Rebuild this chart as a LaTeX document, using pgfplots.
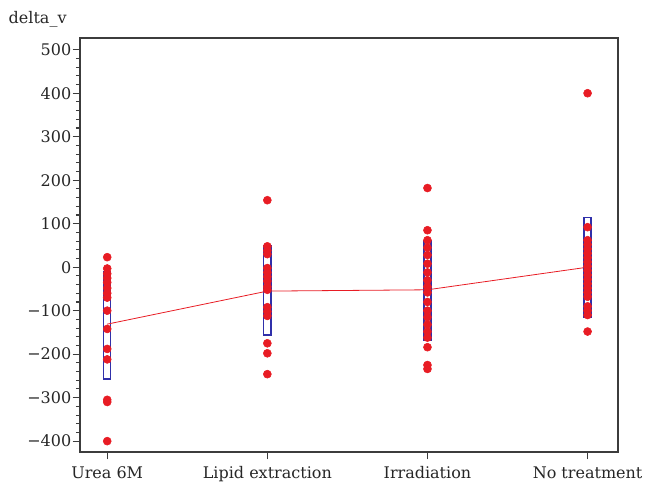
\documentclass[border=0pt]{standalone}
\usepackage{fontspec}
\setmainfont{DejaVu Serif}
\usepackage{pgfplots}
\pgfplotsset{compat=1.18}
\definecolor{dotred}{RGB}{232,28,36}
\definecolor{boxblue}{RGB}{48,48,170}
\definecolor{axgray}{RGB}{60,60,60}

\pgfplotstableread{
x y
0 23
0 -3
0 -15
0 -25
0 -35
0 -48
0 -60
0 -70
0 -100
0 -142
0 -188
0 -212
0 -305
0 -310
0 -400
1 154
1 48
1 38
1 30
1 -2
1 -12
1 -22
1 -32
1 -45
1 -52
1 -92
1 -102
1 -112
1 -175
1 -198
1 -246
2 182
2 85
2 62
2 45
2 28
2 8
2 -12
2 -30
2 -45
2 -58
2 -80
2 -100
2 -115
2 -132
2 -148
2 -162
2 -184
2 -225
2 -234
3 400
3 92
3 62
3 52
3 42
3 32
3 22
3 12
3 2
3 -8
3 -18
3 -28
3 -38
3 -48
3 -58
3 -68
3 -90
3 -100
3 -110
3 -148
}\dots

\begin{document}
\begin{tikzpicture}
\begin{axis}[
  width=403.5pt, height=310.5pt, scale only axis,
  xmin=-0.17, xmax=3.19, ymin=-425, ymax=527,
  xtick={0,1,2,3},
  xticklabels={Urea 6M, Lipid extraction, Irradiation, No treatment},
  ytick={-400,-300,...,500},
  yticklabels={−400,−300,−200,−100,0,100,200,300,400,500},
  minor y tick num=4,
  tick align=outside, tick pos=left,
  major tick length=5.5pt, minor tick length=3pt,
  every tick/.style={axgray, line width=0.8pt},
  axis line style={axgray, line width=0.9pt},
  tick label style={font=\fontsize{12}{14}\selectfont, text=black!85},
  xticklabel style={yshift=-2pt},
  yticklabel style={xshift=2.5pt},
  clip=false,
]
% box fills
\addplot[draw=none, fill=white] coordinates {(-0.022,-257) (0.022,-257) (0.022,-11) (-0.022,-11)} -- cycle;
\addplot[draw=none, fill=white] coordinates {(0.978,-156) (1.022,-156) (1.022,50) (0.978,50)} -- cycle;
\addplot[draw=none, fill=white] coordinates {(1.978,-168) (2.022,-168) (2.022,62) (1.978,62)} -- cycle;
\addplot[draw=none, fill=white] coordinates {(2.978,-115) (3.022,-115) (3.022,115) (2.978,115)} -- cycle;
% dots
\addplot[only marks, mark=*, mark size=3pt, dotred, mark options={draw=dotred, fill=dotred}] table[x=x, y=y] {\dots};
% box outlines
\addplot[draw=boxblue, line width=1pt] coordinates {(-0.022,-257) (0.022,-257) (0.022,-11) (-0.022,-11)} -- cycle;
\addplot[draw=boxblue, line width=1pt] coordinates {(0.978,-156) (1.022,-156) (1.022,50) (0.978,50)} -- cycle;
\addplot[draw=boxblue, line width=1pt] coordinates {(1.978,-168) (2.022,-168) (2.022,62) (1.978,62)} -- cycle;
\addplot[draw=boxblue, line width=1pt] coordinates {(2.978,-115) (3.022,-115) (3.022,115) (2.978,115)} -- cycle;
% mean line
\addplot[dotred, line width=0.6pt] coordinates {(0,-131) (1,-55) (2,-52) (3,0)};
\node[anchor=base west, font=\fontsize{12}{14}\selectfont, text=black!85] at (rel axis cs:0,1) [xshift=-57pt, yshift=10.5pt] {delta\_v};
\end{axis}
\pgfresetboundingbox
\path[use as bounding box] ([shift={(-60pt,-25.5pt)}]current axis.south west) rectangle ([shift={(21pt,28.5pt)}]current axis.north east);
\end{tikzpicture}
\end{document}
